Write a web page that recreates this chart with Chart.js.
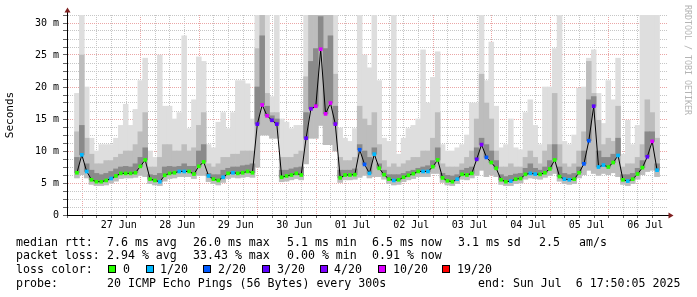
<!DOCTYPE html>
<html><head><meta charset="utf-8">
<script src="https://cdn.jsdelivr.net/npm/chart.js@4.4.1/dist/chart.umd.min.js"></script>
<style>
html,body{margin:0;padding:0;background:#fff;}
#wrap{position:relative;width:697px;height:297px;overflow:hidden;background:#fff;font-family:"DejaVu Sans Mono",monospace;color:#000;}
canvas{position:absolute;left:0;top:0;}
.t{position:absolute;white-space:pre;font-size:11.6px;line-height:14px;}
.box{position:absolute;width:8px;height:8px;box-sizing:border-box;border:1px solid #000;}
#wm{position:absolute;left:683px;top:5px;writing-mode:vertical-rl;font-size:8.3px;line-height:9px;color:#b4b4b4;white-space:pre;}
</style></head>
<body><div id="wrap"><canvas id="c" width="697" height="297"></canvas><div id="legend"></div><div id="wm">RRDTOOL / TOBI OETIKER</div></div>
<script>
// ---- data (2-hour bins, 26 Jun 17:50 -> 06 Jul 17:50) ----
const dayLabels = ['27 Jun','28 Jun','29 Jun','30 Jun','01 Jul','02 Jul','03 Jul','04 Jul','05 Jul','06 Jul'];
const yTickLabels = ['0','5 m','10 m','15 m','20 m','25 m','30 m'];
const medianRtt = [
 6.6, 9.4, 6.8, 5.5, 5.2, 5.2, 5.4, 5.7, 6.1, 6.5,
 6.5, 6.5, 6.6, 7.6, 8.6, 5.6, 5.4, 5.2, 6.2, 6.5,
 6.6, 6.8, 6.8, 6.8, 6.4, 7.6, 8.3, 6.1, 5.6, 5.4,
 5.9, 6.5, 6.6, 6.5, 6.6, 6.8, 6.6, 14.2, 17.2, 15.5,
 14.8, 14.2, 5.9, 6.1, 6.25, 6.5, 6.25, 12.0, 16.6, 17.0,
 25.9, 15.8, 17.5, 14.2, 5.8, 6.25, 6.25, 6.3, 10.2, 7.9,
 6.5, 9.5, 7.3, 6.3, 5.6, 5.4, 5.5, 5.9, 6.2, 6.45,
 6.8, 6.8, 6.8, 7.55, 8.6, 5.8, 5.35, 5.2, 5.6, 6.35,
 6.25, 6.5, 8.7, 11.0, 9.0, 8.2, 7.3, 5.5, 5.2, 5.3,
 5.6, 5.7, 6.35, 6.5, 6.4, 6.35, 6.6, 7.2, 8.6, 6.0,
 5.6, 5.5, 5.6, 6.6, 8.0, 11.6, 17.0, 7.5, 7.8, 7.5,
 8.2, 9.3, 5.5, 5.3, 5.6, 6.4, 7.4, 9.1, 11.5, 7.0
];
const lossCount = [
 0,1,1,0,0,0,0,1,0,0,
 0,0,0,0,0,0,0,1,0,0,
 0,1,1,0,0,0,0,1,0,0,
 1,0,1,0,0,0,0,3,10,10,
 3,3,0,0,0,0,0,3,4,10,
 10,10,10,4,0,0,0,0,2,2,
 1,1,0,0,0,1,0,0,0,0,
 0,1,1,0,0,0,0,0,1,0,
 0,0,3,4,2,0,0,0,0,1,
 0,0,0,1,1,0,0,0,0,0,
 1,1,0,0,2,2,3,1,1,0,
 0,1,0,1,0,0,0,3,10,1
];
const smokeMax = [
 19, 31.25, 20, 12, 10, 11, 11, 11, 12, 14,
 17.3, 14, 16.5, 21, 24.5, 10, 9, 25, 17, 17,
 15, 16, 28, 13.5, 18, 24.7, 24, 11, 10.5, 14.5,
 16, 13.5, 16, 21, 21, 20.5, 15, 31.25, 31.25, 31.25,
 18.5, 31.25, 15, 14.5, 13.5, 14, 14, 31.25, 31.25, 31.25,
 31.25, 31.25, 31.25, 31.25, 13.6, 12, 11.5, 13.5, 31.25, 25,
 23, 31.25, 21, 12, 11.5, 31.25, 9.5, 12, 13.5, 14,
 15, 25.8, 17.5, 21.5, 25.5, 11, 10, 10, 10.5, 11,
 12.5, 17.5, 17.5, 31.25, 21, 27, 17, 10.5, 11, 15,
 10.5, 10.2, 16, 18, 14, 11, 20, 20, 26, 31.25,
 11.5, 11, 12.5, 19.8, 20, 24.5, 25.8, 19, 14.3, 21,
 18, 24.5, 9.5, 14.8, 11, 14, 31.25, 31.25, 31.25, 31.25
];
const smokeMid = [
 13, 25, 12, 9.5, 8, 8, 8.5, 8.5, 9, 9.5,
 10, 10, 11, 13, 16, 7.5, 7.5, 9, 11, 11,
 10, 10, 11, 10, 10.5, 14, 16, 8, 7.5, 8,
 9, 9, 9.5, 9.5, 10, 10, 10, 26, 31.25, 19,
 16, 16, 9, 9, 9, 9.5, 10, 21.6, 31.25, 31.25,
 31.25, 31.25, 31.25, 22, 9, 8.5, 8.5, 9, 17, 15,
 14, 16, 11, 8.5, 7.5, 8, 7.5, 8, 8.5, 9,
 9, 10, 10, 12, 16, 8, 7.5, 7.5, 7.5, 8,
 9, 10, 15, 22, 17.5, 15, 10, 7.5, 7.5, 8,
 7.5, 7.5, 9, 10, 9, 8, 10, 11, 19, 11,
 8, 7.5, 8, 10, 13, 24, 19, 14.8, 11, 12,
 11.5, 17, 7.5, 8, 8, 9, 11, 18, 16, 12
];
const smokeDark = [
 9, 14, 8, 7, 6.5, 6.3, 6.5, 6.8, 7.2, 7.5,
 7.6, 7.5, 8, 9, 10.5, 6.3, 6.2, 6.5, 7.5, 7.6,
 7.5, 7.6, 8, 7.6, 7.6, 10, 11, 6.5, 6.3, 6.3,
 7, 7.3, 7.5, 7.5, 7.7, 7.8, 8, 20, 28, 17,
 15.5, 15, 7, 7, 7.2, 7.4, 7.5, 16, 24, 26,
 31, 26, 28, 17, 7, 7, 7, 7.2, 11, 10,
 9, 10.5, 8, 7, 6.3, 6.3, 6.3, 6.5, 6.8, 7,
 7.3, 7.5, 7.7, 8.5, 10.5, 6.5, 6.2, 6.1, 6.3, 7,
 7.3, 7.5, 10.5, 12, 11, 10, 8.5, 6.3, 6, 6.2,
 6.4, 6.5, 7.3, 8, 7.3, 7, 7.5, 8.5, 11, 7.5,
 6.5, 6.3, 6.5, 7.5, 10, 18, 18.5, 10, 9, 9,
 9.5, 12, 6.3, 6.3, 6.5, 7.3, 8.5, 13, 13, 8
];
const smokeMin = [
 5.8, 6.3, 5.8, 4.8, 4.6, 4.6, 4.7, 5.0, 5.3, 5.7,
 5.8, 5.8, 5.9, 6.2, 6.0, 4.9, 4.7, 4.6, 5.3, 5.7,
 5.8, 6.0, 6.0, 6.0, 5.7, 6.2, 6.2, 5.2, 4.9, 4.7,
 5.1, 5.7, 5.9, 5.8, 5.9, 6.0, 5.9, 7.5, 12.5, 12.5,
 12, 12, 5.2, 5.3, 5.5, 5.7, 5.5, 8, 12, 12,
 14, 11, 11, 10, 5.1, 5.5, 5.5, 5.6, 5.9, 6.2,
 5.8, 6.0, 6.0, 5.6, 4.9, 4.7, 4.8, 5.2, 5.5, 5.7,
 6.0, 6.0, 6.0, 6.5, 6.5, 5.1, 4.7, 4.6, 4.9, 5.6,
 5.5, 5.8, 6.2, 7.0, 6.0, 6.3, 6.0, 4.8, 4.6, 4.6,
 4.9, 5.0, 5.6, 5.8, 5.7, 5.6, 5.9, 6.2, 6.5, 5.3,
 4.9, 4.8, 4.9, 5.8, 6.3, 7.0, 6.5, 6.2, 6.5, 6.3,
 6.6, 6.0, 4.8, 4.6, 4.9, 5.6, 6.3, 6.8, 7.0, 6.0
];
const lossLevels = [0, 1, 2, 3, 4, 10, 19];
const lossLabels = ['0', '1/20', '2/20', '3/20', '4/20', '10/20', '19/20'];
const lossColors = ['#26ff00', '#00b8ff', '#0059ff', '#5e00ff', '#7e00ff', '#dd00ff', '#ff0000'];
// legend rows: [text, x]
const rttRow = [['median rtt:', 16], ['7.6 ms avg', 107], ['26.0 ms max', 193], ['5.1 ms min', 287], ['6.5 ms now', 372], ['3.1 ms sd', 458], ['2.5', 539], ['am/s', 579]];
const lossRow = [['packet loss:', 16], ['2.94 % avg', 107], ['33.43 % max', 193], ['0.00 % min', 287], ['0.91 % now', 372]];
const colorRow = [['loss color:', 16]];
const probeRow = [['probe:', 16], ['20 ICMP Echo Pings (56 Bytes) every 300s', 107], ['end: Sun Jul  6 17:50:05 2025', 478]];

// ---- time axis (hours relative to 27 Jun 00:00) ----
const startHour = -6 - 10 / 60;
const binHours = 2;
const spanHours = 240;
const times = medianRtt.map((_, i) => startHour + binHours * (i + 0.5));
const xTickValues = [];
for (let h = -6; h <= 228; h += 6) xTickValues.push(h);
const yTickValues = [];
for (let v = 0; v <= 31.25; v += 1.25) yTickValues.push(v);

function colorFor(n) {
  let c = lossColors[0];
  lossLevels.forEach((lv, i) => { if (n >= lv) c = lossColors[i]; });
  return c;
}
const PINK = '#eaa6a6', GREY = '#c6c6c6';
const mono = 'DejaVu Sans Mono';

const arrowPlugin = {
  id: 'arrows',
  afterDraw(chart) {
    const { ctx, chartArea: a } = chart;
    ctx.save();
    ctx.strokeStyle = '#000'; ctx.lineWidth = 1;
    ctx.beginPath();
    ctx.moveTo(a.left + 0.5, a.top); ctx.lineTo(a.left + 0.5, a.top - 4);
    ctx.moveTo(a.right, a.bottom + 0.5); ctx.lineTo(a.right + 3, a.bottom + 0.5);
    ctx.stroke();
    ctx.fillStyle = '#7f1f1f';
    ctx.beginPath();
    ctx.moveTo(a.left + 0.5, a.top - 7.5);
    ctx.lineTo(a.left - 2.5, a.top - 2.5);
    ctx.lineTo(a.left + 3.5, a.top - 2.5);
    ctx.closePath(); ctx.fill();
    ctx.beginPath();
    ctx.moveTo(a.right + 6.5, a.bottom + 0.5);
    ctx.lineTo(a.right + 1.5, a.bottom - 2.5);
    ctx.lineTo(a.right + 1.5, a.bottom + 3.5);
    ctx.closePath(); ctx.fill();
    ctx.restore();
  }
};

function band(label, lo, hi, color, order) {
  return {
    type: 'bar', label, order, grouped: false,
    data: times.map((t, i) => ({ x: t, y: [lo[i], hi[i]] })),
    backgroundColor: color, borderWidth: 0,
    barPercentage: 1, categoryPercentage: 1
  };
}

new Chart(document.getElementById('c'), {
  type: 'bar',
  data: {
    datasets: [
      {
        type: 'line', label: 'median rtt', order: 0,
        data: times.map((t, i) => ({ x: t, y: medianRtt[i] })),
        borderColor: '#000', borderWidth: 1, tension: 0,
        pointStyle: 'rect', pointRadius: 2.6, pointBorderWidth: 0,
        pointBackgroundColor: lossCount.map(colorFor)
      },
      band('smoke dark', medianRtt, smokeDark, '#8a8a8a', 1),
      band('smoke mid', smokeMin, smokeMid, '#bdbdbd', 2),
      band('smoke light', smokeMin, smokeMax, '#dedede', 3)
    ]
  },
  options: {
    responsive: false, animation: false,
    layout: { padding: { left: 0, right: 30, top: 15, bottom: 0 } },
    plugins: { legend: { display: false }, tooltip: { enabled: false } },
    scales: {
      x: {
        type: 'linear', min: startHour, max: startHour + spanHours, z: 1,
        afterBuildTicks: s => { s.ticks = xTickValues.map(v => ({ value: v })); },
        afterFit: s => { s.height = 82; },
        ticks: {
          autoSkip: false, maxRotation: 0, minRotation: 0, padding: 1, color: '#000',
          font: { family: mono, size: 10 },
          callback: v => (((v % 24) + 24) % 24 === 12) ? dayLabels[(v - 12) / 24] : ''
        },
        grid: {
          color: c => (c.tick && ((c.tick.value % 24) + 24) % 24 === 0) ? PINK : GREY,
          tickColor: '#666', tickLength: 3, lineWidth: 1
        },
        border: { display: true, color: '#000', width: 1, dash: [1, 1] }
      },
      y: {
        type: 'linear', min: 0, max: 31.25, z: 1,
        afterBuildTicks: s => { s.ticks = yTickValues.map(v => ({ value: v })); },
        afterFit: s => { s.width = 67; },
        ticks: {
          autoSkip: false, padding: 4, color: '#000',
          font: { family: mono, size: 10 },
          callback: v => (v % 5 === 0) ? yTickLabels[v / 5] : ''
        },
        grid: {
          color: c => (c.tick && c.tick.value % 5 === 0) ? PINK : GREY,
          tickColor: '#666', tickLength: 4, lineWidth: 1
        },
        border: { display: true, color: '#000', width: 1, dash: [1, 1] },
        title: { display: true, text: 'Seconds', color: '#000', font: { family: mono, size: 11 }, padding: { top: 4, bottom: 0 } }
      }
    }
  },
  plugins: [arrowPlugin]
});

// ---- legend text below the graph ----
const lg = document.getElementById('legend');
const tops = [234.5, 248.3, 262.1, 276];
function addText(s, x, y) {
  const d = document.createElement('div');
  d.className = 't'; d.style.left = x + 'px'; d.style.top = y + 'px';
  d.textContent = s; lg.appendChild(d);
}
[rttRow, lossRow, colorRow, probeRow].forEach((row, i) => row.forEach(([s, x]) => addText(s, x, tops[i])));
const boxX = [108, 146, 203, 262, 320, 378, 442];
const textX = [123, 160, 218, 277, 334, 393, 457];
lossLabels.forEach((lab, i) => {
  const b = document.createElement('div');
  b.className = 'box'; b.style.left = boxX[i] + 'px'; b.style.top = '265px';
  b.style.background = lossColors[i]; lg.appendChild(b);
  addText(lab, textX[i], tops[2]);
});
</script>
</body></html>
